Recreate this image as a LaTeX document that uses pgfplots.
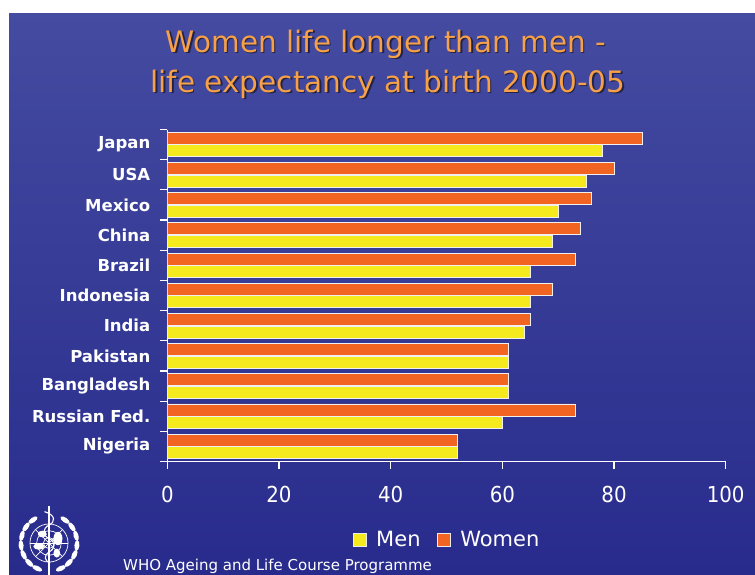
\documentclass[border=0pt]{standalone}
\usepackage{fontspec}
\setmainfont{DejaVu Sans}
\newfontfamily\cond{DejaVu Sans Condensed}
\usepackage{pgfplots}
\pgfplotsset{compat=1.18}
\definecolor{bgtop}{RGB}{68,75,160}
\definecolor{bgbot}{RGB}{40,43,140}
\definecolor{womenc}{RGB}{241,100,34}
\definecolor{menc}{RGB}{244,234,30}
\definecolor{titlec}{RGB}{246,160,72}
\definecolor{shadowc}{RGB}{35,35,70}
\begin{document}
\begin{tikzpicture}[x=1pt,y=1pt]
\fill[white] (0,0) rectangle (755,-574);
\shade[top color=bgtop, bottom color=bgbot] (9,-13) rectangle (755,-574);
% title
\begin{scope}[font=\fontsize{29.5}{39}\selectfont]
\node[anchor=base, text=shadowc] at (387.5,-53.5) {Women life longer than men -};
\node[anchor=base, text=shadowc] at (389.5,-93.5) {life expectancy at birth 2000-05};
\node[anchor=base, text=titlec] at (386,-52) {Women life longer than men -};
\node[anchor=base, text=titlec] at (388,-92) {life expectancy at birth 2000-05};
\end{scope}
% footer
\node[anchor=base west, text=white, inner sep=0pt, font=\fontsize{15}{18}\selectfont] at (123,-570.5) {WHO Ageing and Life Course Programme};
% logo
\begin{scope}[white, line width=0.7pt, shift={(49,-543)}, scale=1.12]
\draw (0,0) circle (17);
\draw (0,0) circle (11);
\draw (0,0) circle (5);
\foreach \a in {0,45,...,315} \draw (0,0) -- (\a:17);
\foreach \a in {125,145,...,245} \fill[rotate=\a] (25,0) ellipse (2.2 and 4.8);
\foreach \a in {-65,-45,...,55} \fill[rotate=\a] (25,0) ellipse (2.2 and 4.8);
\fill (-9,-3) ellipse (5 and 3);
\fill (8,4) ellipse (4 and 6);
\fill (-6,8) ellipse (4 and 3);
\fill (7,-9) ellipse (3 and 4);
\draw[line width=1.6pt] (0,33) -- (0,-30);
\draw[line width=1.1pt] (-4,28) .. controls (6,25) and (6,19) .. (0,16) .. controls (-6,13) and (-6,7) .. (0,4) .. controls (6,1) and (6,-5) .. (0,-8) .. controls (-5,-11) and (-4,-16) .. (1,-18);
\end{scope}
\begin{axis}[
  at={(167.3pt,-461.5pt)}, anchor=south west,
  scale only axis, width=558.4pt, height=332pt,
  xbar=0.5pt, bar width=12pt,
  xmin=0, xmax=100, ymin=-0.5, ymax=10.5,
  axis x line*=bottom, axis y line*=left,
  axis line style={white, line width=1.2pt, -},
  tick align=outside,
  major tick length=7pt, minor tick length=7pt,
  major tick style={draw=none},
  minor tick style={draw=white, line width=1.2pt},
  xtick={0,20,...,100},
  minor xtick={0,20,...,100},
  ytick={0,...,10},
  minor ytick={-0.5,0.5,...,10.5},
  yticklabels={Nigeria,Russian Fed.,Bangladesh,Pakistan,India,Indonesia,Brazil,China,Mexico,USA,Japan},
  /pgf/number format/assume math mode=true,
  xticklabel style={text=white, font=\cond\fontsize{22}{26}\selectfont, yshift=-14pt},
  yticklabel style={text=white, font=\bfseries\fontsize{16.5}{20}\selectfont, xshift=-6.5pt},
  legend columns=2,
  legend style={at={(axis description cs:0.326,-0.236)}, anchor=west, draw=none, fill=none,
    text=white, font=\fontsize{21}{25}\selectfont,
    /tikz/every even column/.append style={column sep=14pt}},
  legend image code/.code={\draw[#1, draw=white!85!gray, line width=0.6pt] (0pt,-6.5pt) rectangle (13pt,6.5pt); \path (21pt,0pt);},
]
\addplot[fill=menc, draw=white!88!gray, line width=0.8pt] coordinates {(52,0) (60,1) (61,2) (61,3) (64,4) (65,5) (65,6) (69,7) (70,8) (75,9) (78,10)};
\addplot[fill=womenc, draw=white!88!gray, line width=0.8pt] coordinates {(52,0) (73,1) (61,2) (61,3) (65,4) (69,5) (73,6) (74,7) (76,8) (80,9) (85,10)};
\legend{Men,Women}
\end{axis}
\pgfresetboundingbox
\path[use as bounding box] (0,0) rectangle (755,-574);
\end{tikzpicture}
\end{document}
